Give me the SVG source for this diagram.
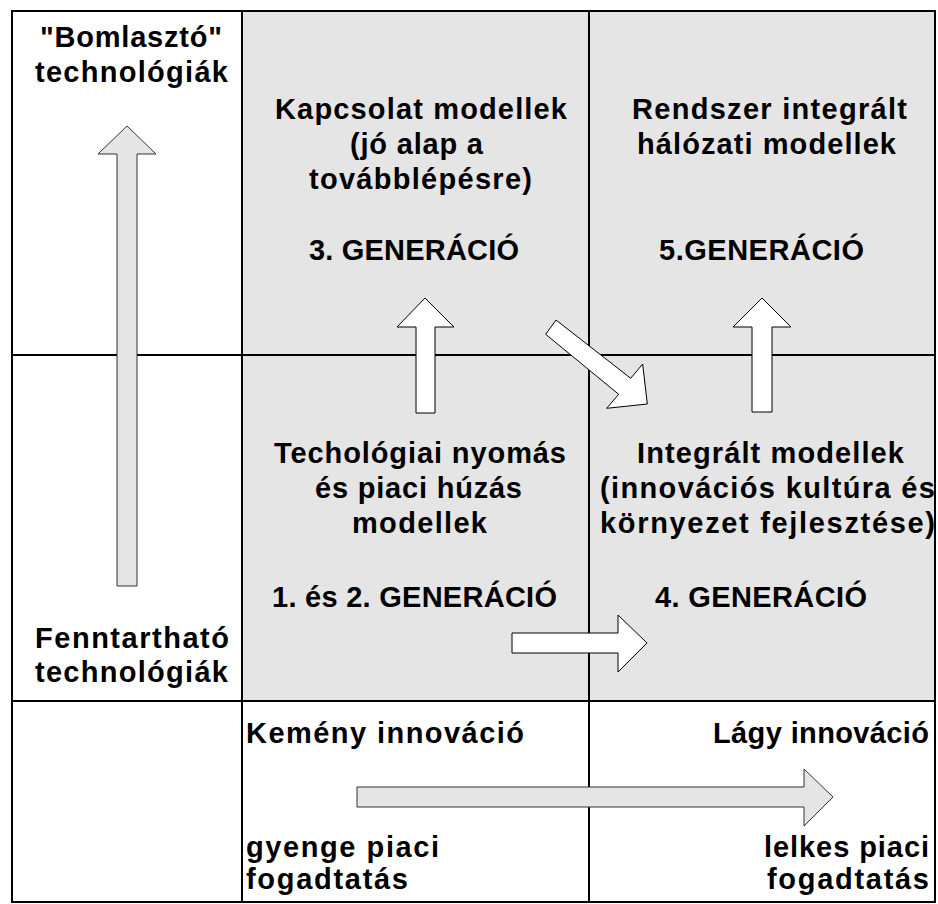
<svg xmlns="http://www.w3.org/2000/svg" width="938" height="904" viewBox="0 0 938 904">
<style>
  text { font-family: "Liberation Sans", Arial, sans-serif; font-weight: bold; font-size: 29px; fill: #000; }
  .r { text-anchor: end; }
  .grid { stroke: #000; stroke-width: 2; fill: none; }
  .arrW { fill: #fff; stroke: #000; stroke-width: 1; }
  .arrG { fill: #e5e5e5; stroke: #333; stroke-width: 1; }
</style>
<rect x="0" y="0" width="938" height="904" fill="#fff"/>
<g id="background">
  <rect x="242" y="11" width="693" height="690" fill="#e5e5e5"/>
</g>
<g id="grid">
  <rect class="grid" x="12" y="11" width="923" height="891"/>
  <line class="grid" x1="242" y1="11" x2="242" y2="902"/>
  <line class="grid" x1="589" y1="11" x2="589" y2="902"/>
  <line class="grid" x1="12" y1="355" x2="935" y2="355"/>
  <line class="grid" x1="12" y1="701" x2="935" y2="701"/>
</g>
<g id="connectors">
  <polygon class="arrG" points="117,586 117,154 98,154 127,126 156,154 137,154 137,586"/>
  <polygon class="arrW" points="416,413 416,327 397,327 425,298 454,327 435,327 435,413"/>
  <polygon class="arrW" points="752,412 752,327 733,327 762,298 791,327 772,327 772,412"/>
  <polygon class="arrW" points="556,320 630.7,378.3 642.7,364 647.3,404 606.7,408.3 618.7,394.3 545.7,334.3"/>
  <polygon class="arrW" points="512,633 618,633 618,615 647,643 618,672 618,653 512,653"/>
  <polygon class="arrG" points="357,787 804,787 804,769 833,797 804,826 804,807 357,807"/>
</g>
<g id="axis-disruptive">
  <text x="40" y="47" textLength="182" lengthAdjust="spacing">"Bomlasztó"</text>
  <text x="35" y="82" textLength="193" lengthAdjust="spacing">technológiák</text>
</g>
<g id="gen3">
  <text x="275" y="119" textLength="292" lengthAdjust="spacing">Kapcsolat modellek</text>
  <text x="350" y="154" textLength="133" lengthAdjust="spacing">(jó alap a</text>
  <text x="309" y="189" textLength="223" lengthAdjust="spacing">továbblépésre)</text>
  <text x="309" y="260" textLength="210" lengthAdjust="spacing">3. GENERÁCIÓ</text>
</g>
<g id="gen5">
  <text x="632" y="119" textLength="275" lengthAdjust="spacing">Rendszer integrált</text>
  <text x="637" y="154" textLength="259" lengthAdjust="spacing">hálózati modellek</text>
  <text x="659" y="260" textLength="205" lengthAdjust="spacing">5.GENERÁCIÓ</text>
</g>
<g id="gen12">
  <text x="274" y="463" textLength="292" lengthAdjust="spacing">Techológiai nyomás</text>
  <text x="315" y="498" textLength="207" lengthAdjust="spacing">és piaci húzás</text>
  <text x="352" y="533" textLength="135" lengthAdjust="spacing">modellek</text>
  <text x="272" y="607" textLength="285" lengthAdjust="spacing">1. és 2. GENERÁCIÓ</text>
</g>
<g id="gen4">
  <text x="637" y="463" textLength="267" lengthAdjust="spacing">Integrált modellek</text>
  <text x="600" y="498" textLength="335" lengthAdjust="spacing">(innovációs kultúra és</text>
  <text x="600" y="533" textLength="335" lengthAdjust="spacing">környezet fejlesztése)</text>
  <text x="655" y="607" textLength="212" lengthAdjust="spacing">4. GENERÁCIÓ</text>
</g>
<g id="axis-sustaining">
  <text x="35" y="648" textLength="194" lengthAdjust="spacing">Fenntartható</text>
  <text x="35" y="682" textLength="193" lengthAdjust="spacing">technológiák</text>
</g>
<g id="axis-hard">
  <text x="246" y="743" textLength="278" lengthAdjust="spacing">Kemény innováció</text>
  <text x="246" y="857" textLength="193" lengthAdjust="spacing">gyenge piaci</text>
  <text x="246" y="889" textLength="162" lengthAdjust="spacing">fogadtatás</text>
</g>
<g id="axis-soft">
  <text class="r" x="929" y="743" textLength="216" lengthAdjust="spacing">Lágy innováció</text>
  <text class="r" x="929" y="857" textLength="165" lengthAdjust="spacing">lelkes piaci</text>
  <text class="r" x="929" y="889" textLength="162" lengthAdjust="spacing">fogadtatás</text>
</g>
</svg>
